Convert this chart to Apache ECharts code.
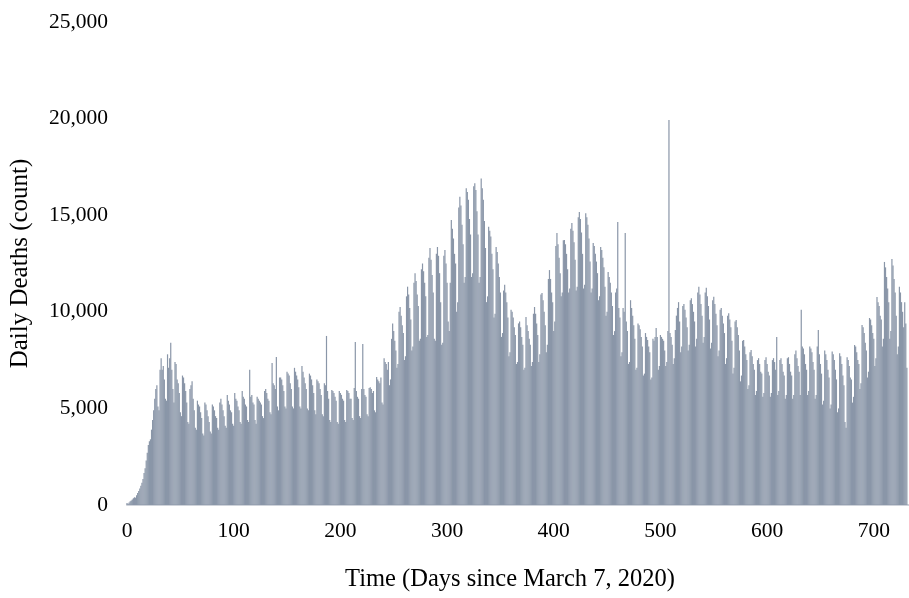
<!DOCTYPE html>
<html>
<head>
<meta charset="utf-8">
<script src="https://cdn.jsdelivr.net/npm/echarts/dist/echarts.min.js"></script>
<style>
html,body{margin:0;padding:0;background:#fff;}
#chart{width:909px;height:598px;}
</style>
</head>
<body>
<div id="chart"></div>
<script>
// X axis tick labels (days since March 7, 2020) and Y tick labels
const xTickLabels = [0, 100, 200, 300, 400, 500, 600, 700];
const yTickLabels = [0, 5000, 10000, 15000, 20000, 25000];

// Daily deaths, days 0-251
const deathsDays0to251 = [
  100, 70, 130, 200, 230, 280, 350,
  400, 380, 500, 620, 720, 850, 1000,
  1150, 1350, 1650, 1900, 2300, 2700, 3100,
  3300, 3400, 3900, 4400, 4900, 5500, 6000,
  6200, 5100, 4900, 7000, 7600, 7000, 7200,
  6500, 5500, 5400, 7800, 7100, 7600, 8400,
  7000, 6000, 5300, 7400, 7300, 6500, 6300,
  5800, 4800, 4600, 6700, 6600, 6300, 5900,
  5300, 4300, 4200, 6000, 6200, 6400, 5500,
  4900, 4000, 3900, 5400, 5200, 5100, 4800,
  4500, 3700, 3600, 5300, 5200, 4900, 4600,
  4300, 3800, 3700, 5200, 5100, 4900, 4600,
  4500, 4000, 3900, 5300, 5500, 5200, 4900,
  4600, 4100, 4000, 5700, 5400, 5200, 4900,
  4800, 4200, 4100, 5800, 5500, 5400, 5100,
  4900, 4300, 4200, 5900, 5600, 5500, 5200,
  5100, 4400, 4300, 7000, 5600, 5700, 5300,
  5200, 4400, 4200, 5600, 5500, 5400, 5300,
  5200, 4600, 4500, 5900, 6000, 5800, 5500,
  5400, 4800, 4700, 7350, 6300, 6200, 6000,
  7660, 5100, 4900, 6600, 6600, 6500, 6200,
  5900, 5100, 5000, 6900, 6800, 6700, 6300,
  6000, 5100, 5000, 7100, 6900, 6700, 6500,
  6100, 5100, 5000, 7200, 6900, 6600, 6300,
  6000, 5000, 4900, 6800, 6700, 6500, 6200,
  5800, 4900, 4700, 6500, 6400, 6300, 6000,
  5700, 4700, 4600, 6300, 6200, 8750, 5900,
  5500, 4400, 4300, 5950, 5900, 5800, 5600,
  5400, 4300, 4200, 5900, 5800, 5700, 5500,
  5400, 4400, 4300, 5950, 5900, 5800, 5500,
  5500, 4500, 4400, 6050, 8440, 5900, 5600,
  5500, 4600, 4500, 6000, 8330, 6000, 5700,
  5600, 4700, 4600, 6050, 6100, 6000, 5800,
  5900, 4900, 4800, 6620, 6500, 6400, 6300,
  6600, 5300, 5200, 7600, 7400, 7300, 7000,
  7400, 6200, 6500, 8600, 9400, 9000, 8500
];

// Daily deaths, days 252-503
const deathsDays252to503 = [
  8000, 7100, 7300, 10000, 10250, 9800, 9300,
  8900, 7500, 7700, 10800, 11300, 10900, 10200,
  9600, 8000, 8200, 11500, 12000, 11600, 10900,
  10300, 8500, 8600, 12200, 12500, 12100, 11500,
  10800, 8700, 8800, 12800, 13300, 12700, 11900,
  11000, 8600, 8500, 13000, 13350, 12900, 12000,
  10500, 8300, 8400, 12900, 13200, 12500, 11500,
  9500, 9000, 11500, 14750, 14300, 13800, 13000,
  12500, 10000, 10500, 15400, 15950, 15500, 14500,
  13500, 11500, 11800, 16400, 16200, 15800, 14800,
  14000, 11800, 12000, 16500, 16650, 16300, 15200,
  14000, 11500, 11800, 16900, 16400, 15800, 14700,
  13300, 10500, 10800, 14400, 14200, 13900, 13000,
  12200, 9700, 9900, 13350, 13100, 12500, 11800,
  11000, 8700, 8900, 11100, 11400, 11000, 10500,
  9700, 7700, 7900, 10100, 10000, 9700, 9200,
  8800, 7300, 7400, 9400, 9500, 9200, 8700,
  8300, 7000, 7100, 9730, 9300, 9000, 8600,
  8300, 7200, 7400, 9900, 10250, 9900, 9400,
  8800, 7400, 7800, 10900, 10970, 10600, 10000,
  9300, 7900, 8300, 11700, 12160, 11700, 11000,
  10500, 9000, 9500, 13400, 14080, 13500, 12800,
  12000, 10800, 11000, 13700, 13720, 13500, 13000,
  12200, 11000, 11200, 14300, 14600, 14200, 13600,
  12700, 11100, 11300, 14900, 15170, 14800, 14100,
  13000, 11200, 11400, 15100, 14900, 14500, 13800,
  12600, 11000, 11200, 13560, 13400, 13000, 12600,
  12000, 10600, 10800, 13350, 13200, 12800, 12300,
  11300, 9800, 10000, 12060, 11800, 11500, 11000,
  10300, 8800, 9000, 11000, 11200, 14650, 10200,
  9700, 7700, 7900, 10200, 10000, 14080, 9500,
  9000, 7300, 7400, 10600, 10200, 9800, 9300,
  8600, 7000, 7100, 9400, 9300, 9100, 8700,
  8200, 6700, 6800, 8900, 8700, 8540, 8200,
  7900, 6500, 6600, 8600, 8500, 8700, 9160,
  8700, 7000, 7200, 8800, 8700, 8600, 8500
];

// Daily deaths, days 504-731
const deathsDays504to731 = [
  8000, 7200, 7400, 9000, 19930, 8900, 8700,
  8300, 7300, 7600, 9060, 9800, 10200, 10500,
  9500, 7900, 8200, 10300, 10400, 10100, 9700,
  9200, 8000, 8300, 10600, 10700, 10400, 10000,
  9500, 8200, 8600, 11000, 11300, 10900, 10400,
  9800, 8400, 8700, 11000, 11250, 10800, 10300,
  9600, 8100, 8400, 10600, 10780, 10400, 9900,
  9300, 7700, 8000, 10100, 10200, 9800, 9400,
  8900, 7300, 7600, 9800, 9930, 9600, 9200,
  8500, 6800, 7100, 9500, 9580, 9200, 8800,
  8000, 6400, 6700, 8500, 8540, 8200, 7800,
  7500, 6000, 6200, 7900, 8020, 7700, 7300,
  7000, 5700, 5900, 7500, 7600, 7300, 6900,
  6800, 5600, 5800, 7500, 7650, 7300, 6900,
  6700, 5600, 5800, 7500, 7600, 7400, 7000,
  8700, 5700, 5900, 7500, 7600, 7300, 6900,
  6700, 5500, 5700, 7600, 7650, 7300, 6900,
  6700, 5500, 5700, 7800, 8000, 7600, 7200,
  6900, 5700, 10100, 8200, 8100, 7800, 7300,
  7000, 5700, 5900, 8200, 8100, 7900, 7400,
  7000, 5500, 5700, 8200, 9060, 7800, 7300,
  6800, 5200, 5400, 8000, 7800, 7500, 7000,
  6600, 5000, 5200, 7950, 7800, 7500, 7000,
  6500, 4800, 5000, 7860, 7700, 7300, 6700,
  6200, 4300, 4000, 7650, 7500, 7200, 6600,
  6500, 5300, 5600, 8280, 8200, 7900, 7500,
  7300, 6000, 6300, 9320, 9200, 8900, 8400,
  8000, 6600, 6900, 9680, 9600, 9300, 8900,
  8600, 7200, 7600, 10770, 10500, 10300, 9800,
  9600, 8200, 8600, 12580, 12300, 11800, 11200,
  10500, 8600, 9000, 12730, 12400, 11700, 11000,
  9800, 7800, 8200, 11300, 11000, 10500, 10000,
  9200, 10500, 9400, 7100
];

const dailyDeaths = deathsDays0to251.concat(deathsDays252to503, deathsDays504to731);
const barData = dailyDeaths.map((v, i) => [i, v]);

const serif = "'Liberation Serif', 'Times New Roman', Times, serif";
const chart = echarts.init(document.getElementById('chart'), null, {renderer: 'canvas'});
chart.setOption({
  animation: false,
  backgroundColor: '#ffffff',
  grid: {left: 127, right: 0, top: 22, bottom: 93, containLabel: false},
  xAxis: {
    type: 'value',
    min: xTickLabels[0],
    max: 733,
    interval: 100,
    axisLine: {show: true, lineStyle: {color: '#cfd3da', width: 2}},
    axisTick: {show: false},
    splitLine: {show: false},
    axisLabel: {
      color: '#000', fontFamily: serif, fontSize: 21.5, margin: 15,
      showMaxLabel: false,
      formatter: v => (xTickLabels.indexOf(v) >= 0 ? String(v) : '')
    },
    name: 'Time (Days since March 7, 2020)',
    nameLocation: 'middle',
    nameGap: 62,
    nameTextStyle: {color: '#000', fontFamily: serif, fontSize: 24.5, padding: [0, 16, 0, 0]}
  },
  yAxis: {
    type: 'value',
    min: yTickLabels[0],
    max: yTickLabels[yTickLabels.length - 1],
    interval: 5000,
    axisLine: {show: false},
    axisTick: {show: false},
    splitLine: {show: false},
    axisLabel: {
      color: '#000', fontFamily: serif, fontSize: 21.5, margin: 19,
      formatter: v => v.toLocaleString('en-US')
    },
    name: 'Daily Deaths (count)',
    nameLocation: 'middle',
    nameGap: 94,
    nameTextStyle: {color: '#000', fontFamily: serif, fontSize: 25}
  },
  series: [{
    type: 'bar',
    data: barData,
    barWidth: 1.2,
    itemStyle: {color: '#8a96a8'},
    emphasis: {disabled: true}
  }]
});
</script>
</body>
</html>
